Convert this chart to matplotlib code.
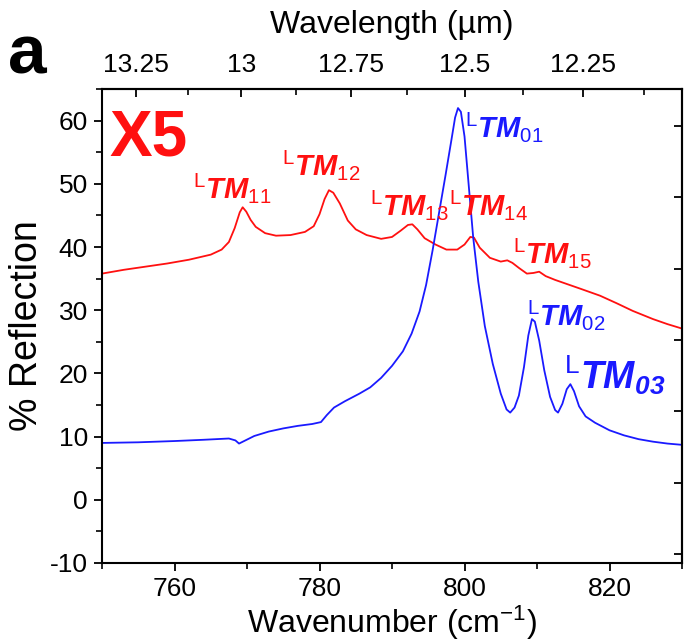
import numpy as np
import matplotlib
matplotlib.use('Agg')
import matplotlib.pyplot as plt
from matplotlib.ticker import MultipleLocator, FixedLocator, NullFormatter

# red trace (X5 sample)
red_wn = [750, 753, 756, 759, 762, 765, 766.5, 767.5, 768.3, 769.0, 769.4, 769.9,
          770.5, 771.2, 772.5, 774, 776, 778, 779.2, 780, 780.7, 781.3, 781.9, 782.8,
          783.9, 785, 786.5, 788.5, 790, 791.2, 792.2, 792.8, 793.5, 794.5, 796, 797.5,
          799, 800, 800.8, 801.3, 802.1, 803.5, 805, 805.9, 806.6, 807.5, 808.6, 809.5,
          810.3, 811.2, 812.5, 814, 816, 818.7, 821, 823.2, 826, 828, 830]
red_refl = [35.8, 36.4, 36.9, 37.4, 38.0, 38.8, 39.6, 40.8, 43.0, 45.5, 46.3, 45.6,
            44.3, 43.2, 42.2, 41.8, 41.9, 42.4, 43.3, 45.2, 47.6, 49.0, 48.6, 46.9,
            44.2, 42.8, 41.9, 41.3, 41.6, 42.6, 43.5, 43.6, 42.8, 41.4, 40.4, 39.6,
            39.6, 40.4, 41.6, 41.5, 39.9, 38.3, 37.7, 37.9, 37.5, 36.7, 35.8, 35.9,
            36.1, 35.4, 34.8, 34.2, 33.4, 32.3, 31.1, 29.9, 28.6, 27.8, 27.1]

# blue trace
blue_wn = [750, 755, 760, 764, 767.5, 768.4, 768.9, 769.6, 771, 773, 775, 777, 779,
           780.2, 781, 782, 783.5, 785.5, 787, 788.5, 790, 791.5, 792.7, 793.8, 794.7,
           795.6, 796.5, 797.4, 798.2, 798.7, 799.1, 799.5, 800.0, 800.6, 801.2, 801.9,
           802.8, 803.9, 805.0, 805.8, 806.3, 806.9, 807.5, 808.2, 808.8, 809.3, 809.7,
           810.3, 811.0, 811.8, 812.5, 812.9, 813.5, 814.1, 814.6, 815.1, 815.8, 816.7,
           818.0, 820, 822, 824, 826, 828, 830]
blue_refl = [9.0, 9.1, 9.3, 9.5, 9.7, 9.4, 8.9, 9.3, 10.1, 10.8, 11.3, 11.7, 12.0,
             12.3, 13.4, 14.6, 15.6, 16.8, 17.8, 19.3, 21.2, 23.5, 26.3, 29.8, 34.0,
             39.5, 45.5, 51.5, 57.0, 60.5, 62.0, 61.4, 57.5, 49.5, 41.5, 34.5,
             27.5, 21.5, 16.8, 14.3, 13.8, 14.6, 16.5, 21.0, 26.0, 28.6, 28.2,
             25.2, 20.5, 16.3, 14.2, 13.8, 15.2, 17.5, 18.3, 17.2, 14.8, 13.2,
             12.2, 11.0, 10.2, 9.6, 9.2, 8.9, 8.7]

# mode labels (subscript, wavenumber, reflection)
mode_names = ['11', '12', '13', '14', '15', '01', '02', '03']
mode_x = [762.6, 774.8, 787.0, 797.9, 806.7, 800.1, 808.6, 813.7]
mode_y = [47.8, 51.3, 45.0, 45.0, 37.5, 57.4, 27.6, 17.6]

wl_ticks = [13.25, 13, 12.75, 12.5, 12.25]
wl_labels = ['13.25', '13', '12.75', '12.5', '12.25']

RED = '#ff1010'
BLUE = '#1a1aff'

plt.rcParams['font.family'] = ['Liberation Sans']
plt.rcParams['axes.unicode_minus'] = False
plt.rcParams['mathtext.fontset'] = 'custom'
plt.rcParams['mathtext.rm'] = 'Liberation Sans'
plt.rcParams['mathtext.it'] = 'Liberation Sans:italic'
plt.rcParams['mathtext.bf'] = 'Liberation Sans:bold'
plt.rcParams['mathtext.bfit'] = 'Liberation Sans:bold:italic'

fig = plt.figure(figsize=(6.86, 6.41), dpi=100)
ax = fig.add_axes([0.1487, 0.1217, 0.9942 - 0.1487, 0.861 - 0.1217])

ax.plot(red_wn, red_refl, color=RED, lw=1.3)
ax.plot(blue_wn, blue_refl, color=BLUE, lw=1.3)

ax.set_xlim(750, 830)
ax.set_ylim(-10, 65)

for s in ax.spines.values():
    s.set_linewidth(1.5)

ax.xaxis.set_major_locator(MultipleLocator(20))
ax.xaxis.set_minor_locator(MultipleLocator(10))
ax.yaxis.set_major_locator(MultipleLocator(10))
ax.yaxis.set_minor_locator(MultipleLocator(5))
ax.tick_params(which='major', direction='out', length=6, width=1.3, labelsize=19, pad=4)
ax.tick_params(which='minor', direction='out', length=4, width=1.2)
ax.tick_params(top=False, right=False, which='both')

ax.set_xlabel(r'Wavenumber (cm$^{\mathregular{-1}}$)', fontsize=23, labelpad=2)
ax.set_ylabel('% Reflection', fontsize=27, labelpad=4)

# top axis in wavelength (um)
top = ax.secondary_xaxis('top', functions=(lambda x: 1e4 / x, lambda w: 1e4 / w))
top.xaxis.set_major_locator(FixedLocator(wl_ticks))
top.set_xticklabels(wl_labels)
top.xaxis.set_minor_locator(FixedLocator([13.125, 12.875, 12.625, 12.375, 12.125]))
top.tick_params(which='major', direction='in', length=6, width=1.3, labelsize=19, pad=9)
top.tick_params(which='minor', direction='in', length=4, width=1.2)
top.spines['top'].set_linewidth(1.5)
top.set_xlabel('Wavelength (µm)', fontsize=23, labelpad=14)

# right axis: inward ticks only
right = ax.secondary_yaxis('right', functions=(lambda y: (y + 8.6) / 1.13, lambda s: s * 1.13 - 8.6))
right.yaxis.set_major_locator(MultipleLocator(10))
right.yaxis.set_major_formatter(NullFormatter())
right.tick_params(direction='in', length=6, width=1.3)
right.spines['right'].set_linewidth(1.5)

# mode annotations
for i, name in enumerate(mode_names):
    color = BLUE if name.startswith('0') else RED
    size = 21
    if name == '03':
        size = 27
        label = r'$^{\mathrm{L}}\mathbfit{TM}_{\mathbfit{03}}$'
    else:
        label = r'$^{\mathrm{L}}\mathbfit{TM}_{\mathrm{%s}}$' % name
    ax.text(mode_x[i], mode_y[i], label, color=color, fontsize=size,
            ha='left', va='baseline')

ax.text(0.012, 0.96, 'X5', transform=ax.transAxes, color=RED, fontsize=46,
        fontweight='bold', ha='left', va='top')
fig.text(0.012, 0.885, 'a', fontsize=50, fontweight='bold', ha='left', va='baseline')

fig.savefig('out.png', dpi=100)
